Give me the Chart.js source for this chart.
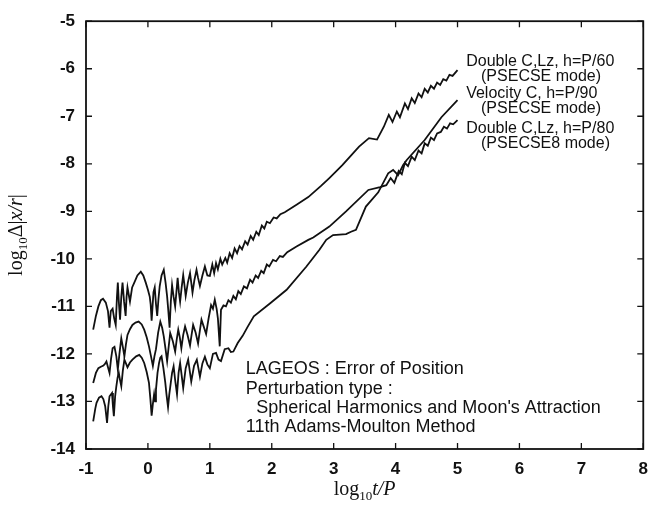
<!DOCTYPE html>
<html>
<head>
<meta charset="utf-8">
<script src="https://cdn.jsdelivr.net/npm/chart.js@4.4.1/dist/chart.umd.min.js"></script>
<style>
  html, body { margin: 0; padding: 0; background: #fff; }
  #wrap { width: 658px; height: 506px; position: relative; }
</style>
</head>
<body>
<div id="wrap"><canvas id="c" width="658" height="506"></canvas></div>
<script>
// axis ticks
const xTicks = [-1, 0, 1, 2, 3, 4, 5, 6, 7, 8]
const yTicks = [-14, -13, -12, -11, -10, -9, -8, -7, -6, -5]

// Double C,Lz, h=P/60 (PSECSE mode)
const p60X = [-0.884, -0.84, -0.80, -0.76, -0.725, -0.68, -0.645, -0.62, -0.60, -0.57, -0.545, -0.52, -0.50, -0.486, -0.47, -0.45,
  -0.43, -0.41, -0.385, -0.36, -0.345, -0.33, -0.31, -0.29, -0.255, -0.22, -0.17, -0.115, -0.075, -0.035, 0.00, 0.03,
  0.044, 0.06, 0.075, 0.09, 0.11, 0.13, 0.15, 0.17, 0.19, 0.22, 0.256, 0.285, 0.31, 0.33, 0.35, 0.37,
  0.39, 0.415, 0.44, 0.46, 0.48, 0.50, 0.52, 0.545, 0.57, 0.59, 0.61, 0.645, 0.68, 0.70, 0.72, 0.75,
  0.785, 0.81, 0.84, 0.88, 0.92, 0.96, 1.00, 1.04, 1.07, 1.10, 1.13, 1.17, 1.20, 1.25, 1.28, 1.32,
  1.36, 1.40, 1.44, 1.48, 1.52, 1.57, 1.61, 1.66, 1.70, 1.75, 1.79, 1.84, 1.88, 1.92, 1.97, 2.03,
  2.08, 2.14, 2.21, 2.40, 2.59, 2.80, 2.93, 3.14, 3.41, 3.57, 3.70, 3.81, 3.89, 3.95, 4.02, 4.07,
  4.15, 4.20, 4.26, 4.31, 4.37, 4.42, 4.47, 4.52, 4.57, 4.62, 4.67, 4.72, 4.77, 4.82, 4.87, 4.92, 5.00]
const p60Y = [-11.49, -11.20, -11.00, -10.87, -10.84, -10.92, -11.10, -11.45, -11.10, -11.05, -11.25, -11.39, -10.80, -10.50, -10.90, -11.28,
  -10.80, -10.50, -10.90, -11.20, -10.80, -10.60, -10.75, -10.90, -10.60, -10.50, -10.35, -10.27, -10.35, -10.50, -10.65, -10.80,
  -10.95, -11.30, -11.00, -10.70, -10.60, -10.95, -11.20, -10.85, -10.58, -10.35, -10.23, -10.50, -10.79, -11.10, -11.45, -10.90,
  -10.55, -10.80, -11.00, -10.70, -10.40, -10.70, -10.90, -10.60, -10.34, -10.55, -10.78, -10.50, -10.30, -10.50, -10.71, -10.45,
  -10.23, -10.40, -10.57, -10.35, -10.16, -10.35, -10.36, -10.12, -10.30, -10.09, -10.22, -10.00, -10.12, -9.98, -10.08, -9.88,
  -9.98, -9.78, -9.88, -9.73, -9.80, -9.63, -9.70, -9.52, -9.60, -9.43, -9.50, -9.30, -9.36, -9.22, -9.25, -9.13,
  -9.15, -9.06, -9.02, -8.86, -8.70, -8.46, -8.30, -8.03, -7.64, -7.46, -7.49, -7.22, -6.97, -7.12, -6.90, -7.02,
  -6.73, -6.85, -6.62, -6.72, -6.52, -6.60, -6.42, -6.50, -6.36, -6.42, -6.29, -6.34, -6.22, -6.25, -6.13, -6.15, -6.03]

// Velocity C, h=P/90 (PSECSE mode)
const velX = [-0.884, -0.85, -0.83, -0.79, -0.75, -0.72, -0.69, -0.66, -0.64, -0.62, -0.58, -0.565, -0.55, -0.53, -0.51, -0.49,
  -0.47, -0.45, -0.43, -0.405, -0.38, -0.355, -0.33, -0.29, -0.25, -0.19, -0.14, -0.10, -0.06, -0.02, 0.017, 0.04,
  0.06, 0.08, 0.10, 0.115, 0.13, 0.155, 0.18, 0.20, 0.22, 0.25, 0.28, 0.30, 0.325, 0.345, 0.37, 0.39,
  0.415, 0.44, 0.47, 0.495, 0.52, 0.545, 0.57, 0.61, 0.65, 0.675, 0.70, 0.745, 0.79, 0.815, 0.84, 0.88,
  0.92, 0.96, 1.00, 1.05, 1.10, 1.14, 1.18, 1.24, 1.30, 1.34, 1.38, 1.45, 1.53, 1.61, 1.71, 1.98,
  2.24, 2.56, 2.77, 2.88, 2.99, 3.20, 3.28, 3.36, 3.52, 3.72, 3.88, 3.96, 4.04, 4.12, 4.18, 4.47, 4.74, 5.00]
const velY = [-13.42, -13.15, -13.03, -12.92, -12.89, -12.95, -13.10, -13.45, -13.10, -12.89, -12.82, -13.10, -13.31, -12.90, -12.68, -12.50,
  -12.40, -12.55, -12.68, -12.35, -12.12, -12.20, -12.28, -12.18, -12.12, -12.05, -12.02, -12.08, -12.19, -12.38, -12.61, -12.95,
  -13.30, -13.05, -12.85, -13.00, -12.75, -12.40, -12.19, -12.08, -12.05, -12.30, -12.60, -12.85, -13.12, -12.85, -12.60, -12.40,
  -12.26, -12.55, -12.85, -12.40, -12.19, -12.45, -12.72, -12.30, -12.12, -12.35, -12.58, -12.25, -12.12, -12.30, -12.48, -12.20,
  -12.06, -12.22, -12.30, -12.00, -11.98, -12.12, -12.15, -11.90, -11.88, -11.96, -11.95, -11.77, -11.62, -11.43, -11.21, -10.93,
  -10.65, -10.16, -9.81, -9.60, -9.50, -9.48, -9.43, -9.39, -8.90, -8.60, -8.20, -8.13, -8.24, -8.03, -7.92, -7.50, -7.02, -6.66]

// Double C,Lz, h=P/80 (PSECSE8 mode)
const p80X = [-0.884, -0.84, -0.80, -0.76, -0.725, -0.70, -0.67, -0.645, -0.62, -0.595, -0.57, -0.54, -0.51, -0.486, -0.46, -0.43,
  -0.405, -0.38, -0.355, -0.33, -0.29, -0.25, -0.20, -0.15, -0.10, -0.06, -0.02, 0.017, 0.05, 0.08, 0.105, 0.13,
  0.165, 0.20, 0.23, 0.256, 0.285, 0.31, 0.335, 0.36, 0.40, 0.44, 0.465, 0.49, 0.515, 0.54, 0.57, 0.60,
  0.64, 0.68, 0.705, 0.73, 0.77, 0.81, 0.84, 0.865, 0.90, 0.94, 0.98, 1.02, 1.05, 1.08, 1.11, 1.13,
  1.16, 1.18, 1.22, 1.26, 1.30, 1.34, 1.38, 1.42, 1.46, 1.50, 1.55, 1.60, 1.65, 1.69, 1.74, 1.78,
  1.83, 1.87, 1.92, 1.96, 2.02, 2.07, 2.13, 2.18, 2.25, 2.40, 2.59, 2.67, 2.93, 3.20, 3.56, 3.75,
  3.85, 3.92, 3.98, 4.05, 4.10, 4.15, 4.20, 4.26, 4.31, 4.37, 4.42, 4.47, 4.52, 4.57, 4.62, 4.67,
  4.73, 4.78, 4.83, 4.88, 4.93, 5.00]
const p80Y = [-12.61, -12.40, -12.30, -12.27, -12.25, -12.22, -12.16, -12.28, -12.40, -12.10, -11.88, -11.85, -12.05, -12.33, -12.00, -11.67,
  -11.85, -12.05, -11.80, -11.60, -11.48, -11.39, -11.34, -11.32, -11.38, -11.49, -11.65, -11.84, -12.05, -12.25, -12.05, -11.90,
  -11.55, -11.32, -11.45, -11.63, -11.90, -12.15, -11.85, -11.56, -11.72, -11.95, -11.70, -11.49, -11.65, -11.88, -11.60, -11.42,
  -11.60, -11.82, -11.60, -11.39, -11.55, -11.78, -11.50, -11.28, -11.42, -11.58, -11.25, -10.97, -11.05, -10.86, -11.05, -11.25,
  -11.84, -11.07, -10.98, -11.00, -10.87, -10.92, -10.78, -10.85, -10.68, -10.74, -10.58, -10.62, -10.44, -10.50, -10.35, -10.40,
  -10.25, -10.30, -10.12, -10.16, -10.02, -10.05, -9.94, -9.96, -9.86, -9.74, -9.60, -9.55, -9.32, -9.00, -8.55, -8.49,
  -8.45, -8.30, -8.40, -8.15, -8.22, -7.98, -8.05, -7.85, -7.92, -7.72, -7.78, -7.57, -7.62, -7.45, -7.50, -7.36,
  -7.33, -7.22, -7.26, -7.15, -7.17, -7.08]

const legendLines = [
  ["Double C,Lz, h=P/60", 5.14, -5.84],
  ["(PSECSE mode)", 5.38, -6.16],
  ["Velocity C, h=P/90", 5.14, -6.53],
  ["(PSECSE mode)", 5.38, -6.84],
  ["Double C,Lz, h=P/80", 5.14, -7.25],
  ["(PSECSE8 mode)", 5.38, -7.57]
]
const noteLines = [
  ["LAGEOS : Error of Position", 1.58, -12.31],
  ["Perturbation type :", 1.58, -12.74],
  ["Spherical Harmonics and Moon's Attraction", 1.75, -13.14],
  ["11th Adams-Moulton Method", 1.58, -13.54]
]

const toPoints = (xs, ys) => xs.map((x, i) => ({ x, y: ys[i] }))
const series = [
  { label: "Double C,Lz, h=P/60", data: toPoints(p60X, p60Y) },
  { label: "Velocity C, h=P/90", data: toPoints(velX, velY) },
  { label: "Double C,Lz, h=P/80", data: toPoints(p80X, p80Y) }
]

const INK = "#111"
const SANS = "'Liberation Sans', Arial, sans-serif"
const SERIF = "'Liberation Serif', 'Times New Roman', serif"

const framePlugin = {
  id: "frame",
  afterDraw(chart) {
    const { ctx, chartArea: a, scales } = chart
    const xs = scales.x, ys = scales.y
    ctx.save()
    ctx.strokeStyle = INK
    ctx.lineWidth = 1.8
    ctx.strokeRect(a.left, a.top, a.right - a.left, a.bottom - a.top)

    // inward ticks on all four sides
    ctx.lineWidth = 1.3
    ctx.beginPath()
    xTicks.forEach(v => {
      const px = xs.getPixelForValue(v)
      ctx.moveTo(px, a.bottom); ctx.lineTo(px, a.bottom - 6)
      ctx.moveTo(px, a.top); ctx.lineTo(px, a.top + 6)
    })
    yTicks.forEach(v => {
      const py = ys.getPixelForValue(v)
      ctx.moveTo(a.left, py); ctx.lineTo(a.left + 6, py)
      ctx.moveTo(a.right, py); ctx.lineTo(a.right - 6, py)
    })
    ctx.stroke()

    ctx.fillStyle = INK
    ctx.textBaseline = "middle"
    ctx.textAlign = "left"
    ctx.font = "16px " + SANS
    legendLines.forEach(([t, x, y]) => ctx.fillText(t, xs.getPixelForValue(x), ys.getPixelForValue(y)))
    ctx.font = "18px " + SANS
    noteLines.forEach(([t, x, y]) => ctx.fillText(t, xs.getPixelForValue(x), ys.getPixelForValue(y)))

    // x axis title: log10 t/P
    ctx.textBaseline = "alphabetic"
    const parts = [
      ["log", "20px " + SERIF, 0],
      ["10", "13px " + SERIF, 5],
      ["t/P", "italic 20px " + SERIF, 0]
    ]
    const widthOf = list => list.reduce((w, [t, f]) => { ctx.font = f; return w + ctx.measureText(t).width }, 0)
    let cx = (a.left + a.right) / 2 - widthOf(parts) / 2
    parts.forEach(([t, f, dy]) => { ctx.font = f; ctx.fillText(t, cx, 495 + dy); cx += ctx.measureText(t).width })

    // y axis title: log10 Δ|x/r|
    const yparts = [
      ["log", "20px " + SERIF, 0],
      ["10", "13px " + SERIF, 5],
      ["Δ|", "20px " + SERIF, 0],
      ["x/r", "italic 20px " + SERIF, 0],
      ["|", "20px " + SERIF, 0]
    ]
    ctx.translate(22, (a.top + a.bottom) / 2)
    ctx.rotate(-Math.PI / 2)
    let cy = -widthOf(yparts) / 2
    yparts.forEach(([t, f, dy]) => { ctx.font = f; ctx.fillText(t, cy, dy); cy += ctx.measureText(t).width })
    ctx.restore()
  }
}

new Chart(document.getElementById("c"), {
  type: "line",
  data: {
    datasets: series.map(s => ({
      label: s.label,
      data: s.data,
      borderColor: INK,
      borderWidth: 1.8,
      pointRadius: 0,
      tension: 0,
      fill: false
    }))
  },
  options: {
    responsive: false,
    animation: false,
    events: [],
    layout: { padding: { left: 0, top: 21, right: 6, bottom: 0 } },
    plugins: { legend: { display: false }, tooltip: { enabled: false } },
    scales: {
      x: {
        type: "linear", min: -1, max: 8,
        afterBuildTicks: s => { s.ticks = xTicks.map(v => ({ value: v })) },
        afterFit: s => { s.height = 57 },
        grid: { display: false, drawTicks: false },
        border: { display: false },
        ticks: { color: INK, padding: 10, font: { family: SANS, size: 17, weight: "bold" } }
      },
      y: {
        type: "linear", min: -14, max: -5,
        afterBuildTicks: s => { s.ticks = yTicks.map(v => ({ value: v })) },
        afterFit: s => { s.width = 86 },
        grid: { display: false, drawTicks: false },
        border: { display: false },
        ticks: { color: INK, padding: 11, font: { family: SANS, size: 17, weight: "bold" } }
      }
    }
  },
  plugins: [framePlugin]
})
</script>
</body>
</html>
